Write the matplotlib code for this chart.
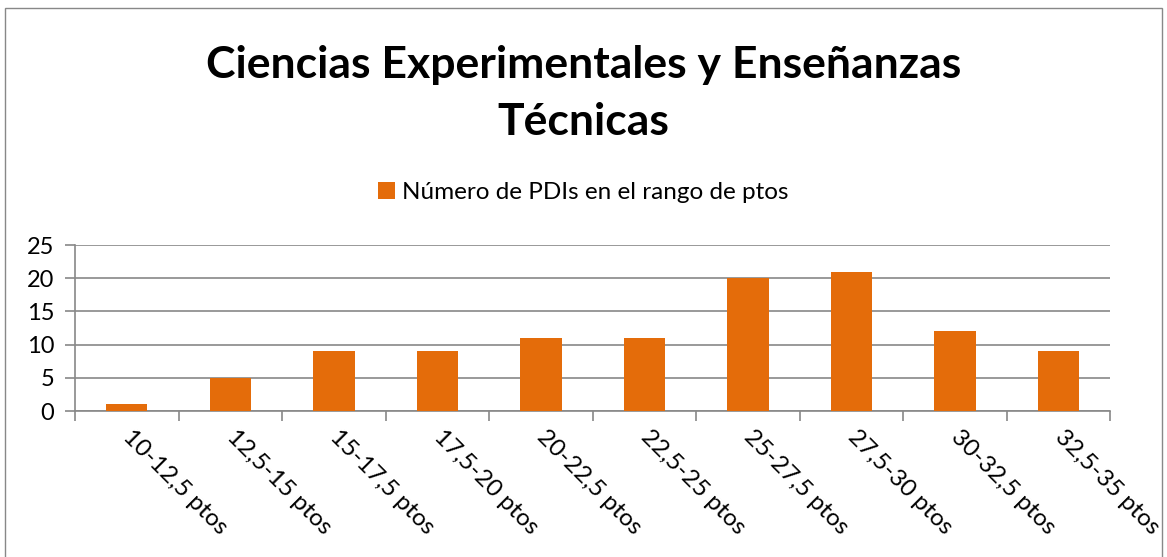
import numpy as np
import matplotlib.pyplot as plt
from matplotlib.patches import Rectangle

categorias = ['10-12,5 ptos', '12,5-15 ptos', '15-17,5 ptos', '17,5-20 ptos',
              '20-22,5 ptos', '22,5-25 ptos', '25-27,5 ptos', '27,5-30 ptos',
              '30-32,5 ptos', '32,5-35 ptos']
num_pdis = [1, 5, 9, 9, 11, 11, 20, 21, 12, 9]
yticks = [0, 5, 10, 15, 20, 25]

naranja = '#E46C0A'
gris = '#888888'

plt.rcParams['font.family'] = ['Lato', 'DejaVu Sans']

fig = plt.figure(figsize=(11.67, 5.57), dpi=100)
ax = fig.add_axes([0.0643, 0.262, 0.887, 0.298])

x = np.arange(len(categorias))
ax.bar(x, num_pdis, width=0.4, color=naranja, zorder=3,
       label='Número de PDIs en el rango de ptos')

ax.set_xlim(-0.5, len(categorias) - 0.5)
ax.set_ylim(0, 25)
ax.set_yticks(yticks)
ax.yaxis.grid(True, color=gris, linewidth=1.2, zorder=0)

# ticks between the categories
ax.set_xticks(x)
ax.set_xticklabels(categorias, rotation=-45, ha='left', va='center',
                   rotation_mode='anchor', fontsize=17.5)
ax.tick_params(axis='x', which='major', length=0, pad=16)
ax.set_xticks(np.arange(-0.5, len(categorias)), minor=True)
ax.tick_params(axis='x', which='minor', length=7, color=gris, width=1.2)
ax.tick_params(axis='y', length=7, color=gris, width=1.2, labelsize=17, pad=8)

for s in ['top', 'right']:
    ax.spines[s].set_visible(False)
for s in ['left', 'bottom']:
    ax.spines[s].set_color(gris)
    ax.spines[s].set_linewidth(1.2)

fig.text(0.5, 0.832, 'Ciencias Experimentales y Enseñanzas\nTécnicas',
         ha='center', va='center', fontsize=32, fontweight='bold',
         linespacing=1.5)

fig.legend(loc='center', bbox_to_anchor=(0.5, 0.655), frameon=False,
           fontsize=17.5, handlelength=0.7, handleheight=0.7, handletextpad=0.3)

# border of the chart area
fig.patches.append(Rectangle((0.004, -0.01), 0.992, 0.996, transform=fig.transFigure,
                             fill=False, edgecolor=gris, linewidth=1))

fig.savefig('out.png', dpi=100)
